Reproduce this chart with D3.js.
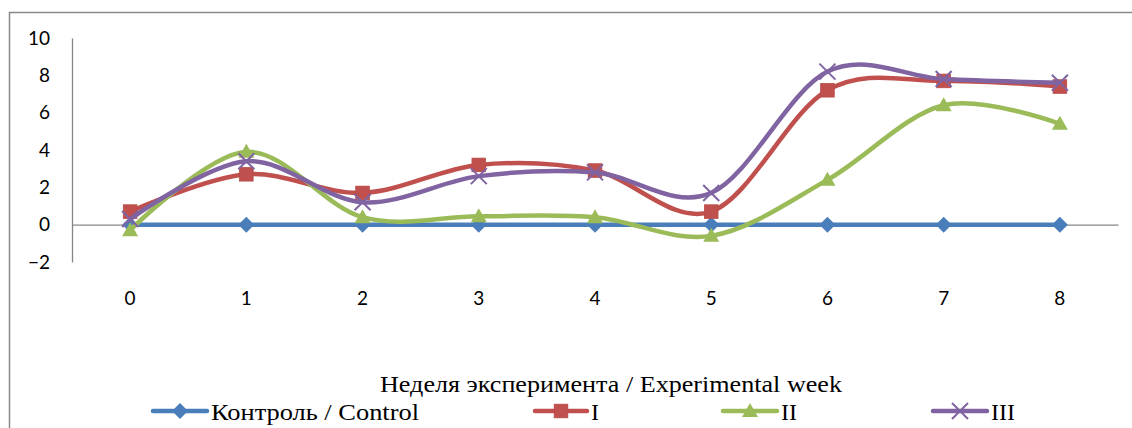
<!DOCTYPE html>
<html><head><meta charset="utf-8">
<script src="https://cdn.jsdelivr.net/npm/d3@7"></script>
<style>html,body{margin:0;padding:0;background:#fff;}svg{display:block;}</style>
</head><body>
<svg id="chart" width="1132" height="428"></svg>
<script>
const weeks = ["0","1","2","3","4","5","6","7","8"];
const seriesNames = ["Контроль / Control","I","II","III"];
const control = [0,0,0,0,0,0,0,0,0];
const groupI = [0.7,2.7,1.7,3.2,2.9,0.7,7.2,7.7,7.4];
const groupII = [-0.3,3.9,0.4,0.45,0.4,-0.6,2.4,6.4,5.4];
const groupIII = [0.3,3.4,1.2,2.6,2.8,1.7,8.2,7.8,7.6];
const yTicks = [-2,0,2,4,6,8,10];
const colors = ["#4A7EBB","#C0504D","#9BBB59","#8064A2"];
const markers = ["diamond","square","triangle","x"];
const xTitle = "Неделя эксперимента / Experimental week";

const series = [control, groupI, groupII, groupIII].map((v,i)=>({name:seriesNames[i], values:v, color:colors[i], marker:markers[i]}));

const svg = d3.select("#chart");
// outer border
svg.append("path").attr("d","M9.5,440 V12.5 H1140").attr("fill","none").attr("stroke","#888").attr("stroke-width",1.5);

const x = d3.scaleBand().domain(weeks).range([72,1118]);
const y = d3.scaleLinear().domain([-2,10]).range([262,38]);

// y axis
const yAxis = svg.append("g").attr("transform","translate(72,0)")
  .call(d3.axisLeft(y).tickValues(yTicks).tickSize(0).tickPadding(22));
yAxis.select(".domain").attr("stroke","#868686").attr("stroke-width",1.3);
yAxis.selectAll("text").attr("font-family","Lato, 'Open Sans', sans-serif").attr("font-size",19).attr("fill","#000");

// x axis at y=0
const xAxis = svg.append("g").attr("transform",`translate(0,${y(0)})`)
  .call(d3.axisBottom(x).tickSize(0).tickPadding(0));
xAxis.select(".domain").attr("stroke","#868686").attr("stroke-width",1.3);
xAxis.selectAll("text").attr("font-family","Lato, 'Open Sans', sans-serif").attr("font-size",19).attr("fill","#000")
  .attr("y",298 - y(0)).attr("dy","0.35em");

const cx = d => x(d) + x.bandwidth()/2;
const line = d3.line().x((d,i)=>cx(weeks[i])).y(d=>y(d)).curve(d3.curveCatmullRom.alpha(0));

function drawMarker(g, type, color, px, py, s) {
  if (type==="diamond") {
    g.append("path").attr("d",`M${px},${py-s}L${px+s},${py}L${px},${py+s}L${px-s},${py}Z`).attr("fill",color);
  } else if (type==="square") {
    g.append("rect").attr("x",px-s*0.85).attr("y",py-s*0.85).attr("width",s*1.7).attr("height",s*1.7).attr("fill",color).attr("stroke","#B84A47").attr("stroke-width",0.8);
  } else if (type==="triangle") {
    g.append("path").attr("d",`M${px},${py-s}L${px+s},${py+s*0.75}L${px-s},${py+s*0.75}Z`).attr("fill",color);
  } else {
    g.append("path").attr("d",`M${px-s},${py-s}L${px+s},${py+s}M${px-s},${py+s}L${px+s},${py-s}`).attr("stroke",color).attr("stroke-width",2);
  }
}

series.forEach(s=>{
  const g = svg.append("g");
  g.append("path").datum(s.values).attr("d",line).attr("fill","none").attr("stroke",s.color).attr("stroke-width",4.5).attr("stroke-linecap","round");
  s.values.forEach((v,i)=>drawMarker(g, s.marker, s.color, cx(weeks[i]), y(v), 8));
});

// axis title
svg.append("text").attr("x",611).attr("y",392).attr("text-anchor","middle")
  .attr("font-family","'Liberation Serif', 'Times New Roman', serif").attr("font-size",24)
  .attr("textLength",462).attr("lengthAdjust","spacingAndGlyphs").text(xTitle);

// legend
const legendX = [153,535,723,933];
const legendW = [54,52,54,54];
const textLens = [208,null,null,null];
series.forEach((s,i)=>{
  const g = svg.append("g");
  const x0 = legendX[i], x1 = x0+legendW[i], ly = 411;
  g.append("line").attr("x1",x0).attr("x2",x1).attr("y1",ly).attr("y2",ly).attr("stroke",s.color).attr("stroke-width",4.5).attr("stroke-linecap","round");
  drawMarker(g, s.marker, s.color, (x0+x1)/2, ly, 8);
  const t = g.append("text").attr("x",x1+4).attr("y",420).attr("font-family","'Liberation Serif', 'Times New Roman', serif").attr("font-size",24).text(s.name);
  if (textLens[i]) t.attr("textLength",textLens[i]).attr("lengthAdjust","spacingAndGlyphs");
});
</script>
</body></html>
